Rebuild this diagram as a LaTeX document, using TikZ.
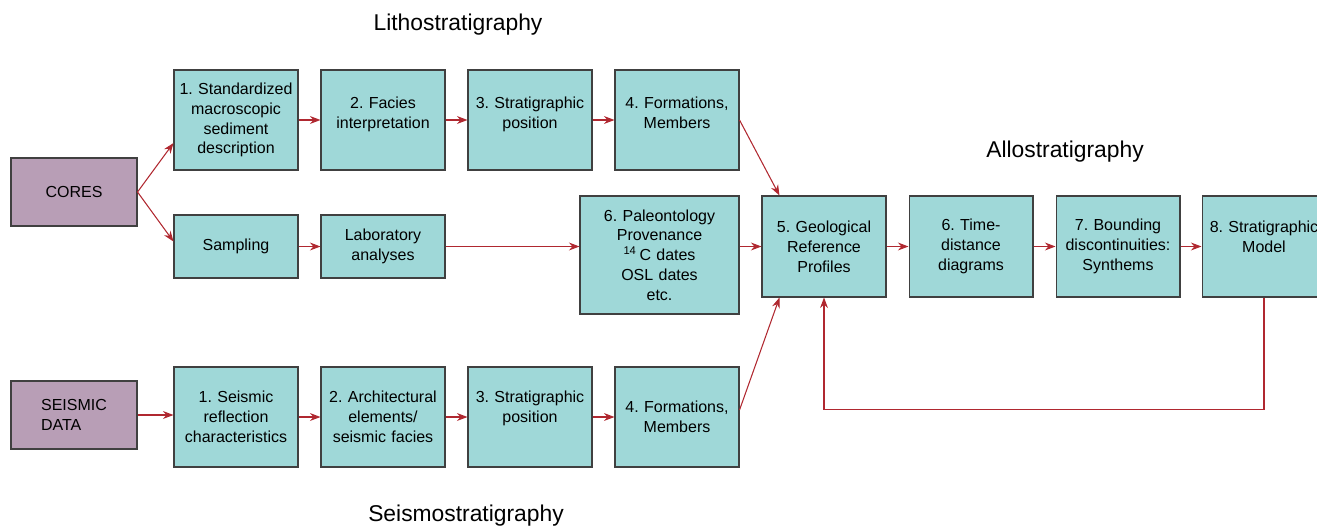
\documentclass[tikz,border=0pt]{standalone}
\usepackage{fontspec}
\setmainfont{Liberation Sans}
\frenchspacing
\usetikzlibrary{arrows.meta}
\definecolor{boxteal}{RGB}{159,216,216}
\definecolor{boxmauve}{RGB}{184,158,182}
\definecolor{flowred}{RGB}{176,40,48}

\begin{document}
\begin{tikzpicture}[x=0.02cm, y=-0.02cm,
  stage/.style={draw=black!75, line width=0.6pt, fill=boxteal, inner sep=0pt,
    minimum width=2.48cm, minimum height=2cm, text width=2.44cm, align=center,
    font=\fontsize{9.1}{11.3}\selectfont},
  source/.style={draw=black!75, line width=0.6pt, fill=boxmauve, inner sep=0pt,
    minimum width=2.52cm, minimum height=1.36cm, align=center,
    font=\fontsize{9.1}{11.3}\selectfont},
  title/.style={font=\fontsize{13}{15}\selectfont},
  flow/.style={draw=flowred, line width=0.6pt, -{Stealth[length=6pt,width=4.5pt]}}]
\useasboundingbox (0,0) rectangle (1317,527);

\node (cores) at (74,192) [source] {CORES};
\node (seismic) at (74,415) [source, align=left] {SEISMIC\\DATA};

\node (l1) at (236,120) [stage] {1. Standardized\\macroscopic\\sediment\\description};
\node (l2) at (383,120) [stage] {2. Facies\\interpretation\\[-3pt]~};
\node (l3) at (530,120) [stage] {3. Stratigraphic\\position\\[-3pt]~};
\node (l4) at (677,120) [stage] {4. Formations,\\Members\\[-3pt]~};

\node (samp) at (236,246.5) [stage, minimum height=1.26cm] {Sampling};
\node (lab) at (383,246.5) [stage, minimum height=1.26cm] {Laboratory\\analyses};
\node (paleo) at (659.5,255) [stage, minimum width=3.18cm, minimum height=2.36cm, text width=3.1cm]
  {6. Paleontology\\Provenance\\\textsuperscript{14}\,C dates\\OSL dates\\etc.};

\node (geo) at (824,246.5) [stage, minimum height=2.02cm] {5. Geological\\Reference\\Profiles};
\node (time) at (971,246.5) [stage, minimum height=2.02cm] {6. Time-\\distance\\diagrams};
\node (bound) at (1118,246.5) [stage, minimum height=2.02cm] {7. Bounding\\discontinuities:\\Synthems};
\node (model) at (1264,246.5) [stage, minimum height=2.02cm] {8. Stratigraphic\\Model\\~};

\node (s1) at (236,417) [stage] {1. Seismic\\reflection\\characteristics};
\node (s2) at (383,417) [stage] {2. Architectural\\elements/\\seismic facies};
\node (s3) at (530,417) [stage] {3. Stratigraphic\\position\\~};
\node (s4) at (677,417) [stage] {4. Formations,\\Members};

\node (litho) at (458,25) [title] {Lithostratigraphy};
\node (allo) at (1065,152) [title] {Allostratigraphy};
\node (seismo) at (466,516) [title] {Seismostratigraphy};

% cores
\draw[flow] (cores.east) -- ([yshift=-0.46cm]l1.west);
\draw[flow] (cores.east) -- ([yshift=0.1cm]samp.west);
\draw[flow] (l1) -- (l2);
\draw[flow] (l2) -- (l3);
\draw[flow] (l3) -- (l4);
\draw[flow] (l4.east) -- ([xshift=0.36cm]geo.north west);
\draw[flow] (samp) -- (lab);
\draw[flow] (lab.east) -- (lab.east -| paleo.west);
\draw[flow] (paleo.east |- geo.west) -- (geo.west);

% seismic
\draw[flow] (seismic.east) -- (seismic.east -| s1.west);
\draw[flow] (s1) -- (s2);
\draw[flow] (s2) -- (s3);
\draw[flow] (s3) -- (s4);
\draw[flow] ([yshift=0.14cm]s4.east) -- ([xshift=0.36cm]geo.south west);

% allo
\draw[flow] (geo) -- (time);
\draw[flow] (time) -- (bound);
\draw[flow] (bound) -- (model);
\draw[flow] (model.south) -- ++(0,112) -| (geo.south);
\end{tikzpicture}
\end{document}
